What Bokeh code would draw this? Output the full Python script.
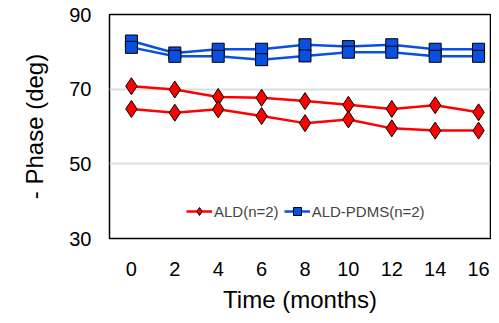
from bokeh.plotting import figure
from bokeh.models import Range1d, FixedTicker, Legend, LegendItem
from bokeh.embed import file_html
from bokeh.resources import INLINE

months = [0, 2, 4, 6, 8, 10, 12, 14, 16]
ald_1 = [70.8, 69.9, 67.9, 67.7, 66.8, 65.8, 64.7, 65.7, 63.8]
ald_2 = [64.7, 63.7, 64.6, 62.8, 60.9, 61.9, 59.5, 58.9, 58.9]
pdms_1 = [82.9, 79.7, 80.7, 80.7, 81.9, 81.4, 81.9, 80.7, 80.7]
pdms_2 = [81.2, 78.8, 78.8, 77.9, 78.9, 79.9, 79.9, 78.8, 78.8]
y_ticks = [30, 50, 70, 90]

p = figure(width=491, height=315, output_backend="svg", toolbar_location=None,
           x_range=Range1d(-1.01, 16.55), y_range=Range1d(30, 90),
           min_border_left=109, min_border_right=1, min_border_top=14, min_border_bottom=77)
p.outline_line_color = "black"
p.outline_line_width = 1.5
p.background_fill_color = "white"
p.border_fill_color = "white"

FONT = "Liberation Sans"
for ax in (p.xaxis[0], p.yaxis[0]):
    ax.axis_line_color = None
    ax.major_tick_line_color = None
    ax.minor_tick_line_color = None
    ax.major_label_text_font = FONT
    ax.major_label_text_font_size = "20px"
    ax.major_label_text_color = "black"
    ax.axis_label_text_font = FONT
    ax.axis_label_text_font_size = "24px"
    ax.axis_label_text_font_style = "normal"
    ax.axis_label_text_color = "black"

p.xaxis.ticker = FixedTicker(ticks=months)
p.yaxis.ticker = FixedTicker(ticks=y_ticks)
p.xaxis.axis_label = "Time (months)"
p.yaxis.axis_label = "- Phase (deg)"
p.xaxis.major_label_standoff = 17
p.xaxis.axis_label_standoff = 7
p.yaxis.major_label_standoff = 12
p.yaxis.axis_label_standoff = 18

p.xgrid.grid_line_color = None
p.ygrid.grid_line_color = "#dddddd"
p.ygrid.grid_line_width = 2

red = "#ff0000"
blue = "#0a50e0"
r_lines = []
for ys in (ald_1, ald_2):
    l = p.line(months, ys, line_color=red, line_width=2.5)
    s = p.scatter(months, ys, marker="diamond", size=17, fill_color=red, line_color="black", line_width=1)
    r_lines.append((l, s))
b_lines = []
for ys in (pdms_1, pdms_2):
    l = p.line(months, ys, line_color=blue, line_width=2.5)
    s = p.scatter(months, ys, marker="square", size=12, fill_color=blue, line_color="black", line_width=1)
    b_lines.append((l, s))

# legend glyphs (smaller markers)
lg_r = p.scatter([None], [None], marker="diamond", size=10, fill_color=red, line_color="black")
lg_b = p.scatter([None], [None], marker="square", size=10, fill_color=blue, line_color="black")

legend = Legend(items=[
    LegendItem(label="ALD(n=2)", renderers=[r_lines[0][0], lg_r]),
    LegendItem(label="ALD-PDMS(n=2)", renderers=[b_lines[0][0], lg_b]),
], orientation="horizontal", location=(77, 17))
legend.border_line_color = None
legend.background_fill_alpha = 0
legend.label_text_font = FONT
legend.label_text_font_size = "15px"
legend.glyph_width = 26
legend.spacing = 5
legend.label_standoff = 2
legend.padding = 2
p.add_layout(legend, "center")

open("out.html", "w").write(file_html(p, INLINE))
